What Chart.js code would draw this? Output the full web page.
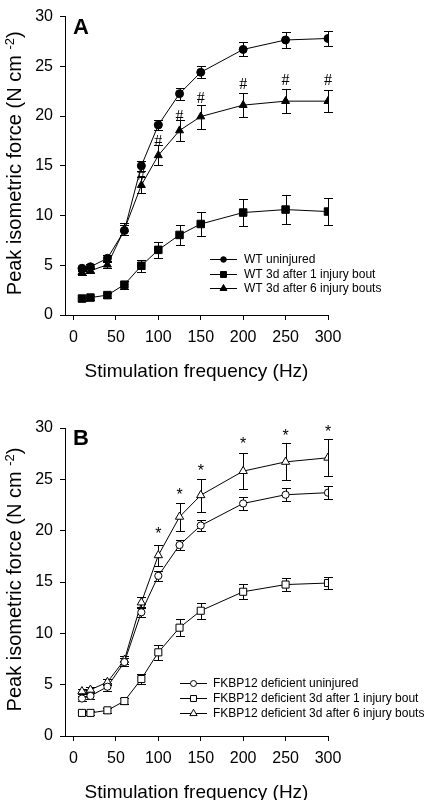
<!DOCTYPE html>
<html>
<head>
<meta charset="utf-8">
<script src="https://cdn.jsdelivr.net/npm/chart.js@4.4.1/dist/chart.umd.min.js"></script>
<style>
  html, body { margin: 0; padding: 0; background: #fff; }
  canvas { display: block; }
</style>
</head>
<body>
<canvas id="chart-a" width="428" height="400"></canvas>
<canvas id="chart-b" width="428" height="400"></canvas>
<script>
// Stimulation frequencies (Hz)
const freq = [10, 20, 40, 60, 80, 100, 125, 150, 200, 250, 300];
const xTicks = [0, 50, 100, 150, 200, 250, 300];
const yTicks = [0, 5, 10, 15, 20, 25, 30];

// Panel A - WT (mean, sem)
const wtUninjured = [4.7, 4.85, 5.7, 8.5, 15.0, 19.1, 22.25, 24.4, 26.7, 27.65, 27.8];
const wtUninjuredSem = [0.25, 0.25, 0.3, 0.5, 0.5, 0.55, 0.6, 0.6, 0.7, 0.8, 0.8];
const wt1Bout = [1.65, 1.75, 2.0, 3.05, 4.95, 6.55, 8.05, 9.15, 10.3, 10.6, 10.4];
const wt1BoutSem = [0.2, 0.2, 0.25, 0.4, 0.6, 0.8, 1.0, 1.2, 1.4, 1.5, 1.4];
const wt6Bouts = [4.3, 4.45, 5.05, 8.6, 13.05, 16.05, 18.55, 19.95, 21.1, 21.5, 21.5];
const wt6BoutsSem = [0.25, 0.25, 0.3, 0.6, 0.8, 1.0, 1.1, 1.2, 1.2, 1.2, 1.1];

// Panel B - FKBP12 deficient (mean, sem)
const fkUninjured = [3.65, 3.9, 4.8, 7.2, 12.05, 15.6, 18.6, 20.5, 22.65, 23.5, 23.7];
const fkUninjuredSem = [0.25, 0.25, 0.4, 0.4, 0.5, 0.5, 0.5, 0.55, 0.65, 0.65, 0.65];
const fk1Bout = [2.25, 2.25, 2.5, 3.4, 5.55, 8.15, 10.55, 12.2, 14.05, 14.75, 14.9];
const fk1BoutSem = [0.2, 0.2, 0.25, 0.3, 0.5, 0.7, 0.8, 0.8, 0.75, 0.65, 0.6];
const fk6Bouts = [4.35, 4.5, 5.25, 7.4, 13.0, 17.6, 21.35, 23.45, 25.8, 26.7, 27.1];
const fk6BoutsSem = [0.25, 0.25, 0.3, 0.4, 0.5, 1.0, 1.35, 1.6, 1.75, 1.8, 1.8];

// significance marks (freq, y value where the mark sits)
const hashFreq = [80, 100, 125, 150, 200, 250, 300];
const hashY = [14.1, 17.5, 20.1, 21.9, 23.3, 23.7, 23.7];
const starFreq = [100, 125, 150, 200, 250, 300];
const starY = [20.1, 23.9, 26.25, 28.8, 29.6, 30.0];

const SANS = 'Arial, "Liberation Sans", sans-serif';

function toPoints(vals) {
  return freq.map((f, i) => ({ x: f, y: vals[i] }));
}

function makeDataset(label, vals, sem, style, radius, fill) {
  return {
    label: label,
    data: toPoints(vals),
    sem: sem,
    borderColor: '#000',
    borderWidth: 1,
    pointStyle: style,
    pointRadius: radius,
    pointBorderWidth: 1,
    pointBorderColor: '#000',
    pointBackgroundColor: fill,
    tension: 0,
    fill: false
  };
}

// error bars + titles + legend + marks
function decorPlugin(extra) {
  return {
    id: 'decor',
    beforeDatasetsDraw(chart) {
      const { ctx, scales: { x, y } } = chart;
      ctx.save();
      ctx.strokeStyle = '#000';
      ctx.lineWidth = 1;
      chart.data.datasets.forEach(ds => {
        ds.data.forEach((p, i) => {
          const px = Math.round(x.getPixelForValue(p.x)) + 0.5;
          const top = Math.round(y.getPixelForValue(p.y + ds.sem[i])) + 0.5;
          const bot = Math.round(y.getPixelForValue(p.y - ds.sem[i])) + 0.5;
          ctx.beginPath();
          ctx.moveTo(px, top); ctx.lineTo(px, bot);
          ctx.moveTo(px - 4.5, top); ctx.lineTo(px + 4.5, top);
          ctx.moveTo(px - 4.5, bot); ctx.lineTo(px + 4.5, bot);
          ctx.stroke();
        });
      });
      ctx.restore();
    },
    afterDraw(chart) {
      const { ctx, chartArea: area, scales: { x, y } } = chart;
      ctx.save();
      ctx.fillStyle = '#000';

      // panel letter
      ctx.font = 'bold 22px ' + SANS;
      ctx.textAlign = 'left';
      ctx.textBaseline = 'alphabetic';
      ctx.fillText(extra.letter, area.left + 8, area.top + 17);

      // x title
      ctx.font = '19px ' + SANS;
      ctx.textAlign = 'center';
      ctx.fillText('Stimulation frequency (Hz)', (area.left + area.right) / 2, area.bottom + 61.5);

      // y title with superscript
      const main = 'Peak isometric force (N cm ';
      const sup = '-2';
      const close = ')';
      ctx.font = '20px ' + SANS;
      const w1 = ctx.measureText(main).width;
      const w3 = ctx.measureText(close).width;
      ctx.font = '13px ' + SANS;
      const w2 = ctx.measureText(sup).width;
      const x0 = -(w1 + w2 + w3) / 2;
      ctx.save();
      ctx.translate(20.5, (area.top + area.bottom) / 2 - 2.5);
      ctx.rotate(-Math.PI / 2);
      ctx.textAlign = 'left';
      ctx.font = '20px ' + SANS;
      ctx.fillText(main, x0, 0);
      ctx.font = '13px ' + SANS;
      ctx.fillText(sup, x0 + w1, -7);
      ctx.font = '20px ' + SANS;
      ctx.fillText(close, x0 + w1 + w2, 0);
      ctx.restore();

      // significance marks
      ctx.textAlign = 'center';
      if (extra.mark === '#') {
        ctx.font = '16px "Liberation Serif", "Times New Roman", serif';
        hashFreq.forEach((f, i) => {
          ctx.fillText('#', x.getPixelForValue(f), y.getPixelForValue(hashY[i]) + 5.5);
        });
      } else {
        ctx.font = '16px ' + SANS;
        starFreq.forEach((f, i) => {
          ctx.fillText('*', x.getPixelForValue(f), y.getPixelForValue(starY[i]) + 9);
        });
      }

      // legend
      const lg = extra.legend;
      chart.data.datasets.forEach((ds, i) => {
        const ly = Math.round(area.bottom + lg.rows[i]) + 0.5;
        ctx.strokeStyle = '#000';
        ctx.lineWidth = 1;
        ctx.beginPath();
        ctx.moveTo(lg.x0, ly);
        ctx.lineTo(lg.x1, ly);
        ctx.stroke();
        ctx.fillStyle = ds.pointBackgroundColor;
        Chart.helpers.drawPoint(ctx, {
          pointStyle: ds.pointStyle,
          radius: lg.radius[i],
          rotation: 0,
          borderWidth: 1
        }, (lg.x0 + lg.x1) / 2, ly);
        ctx.fillStyle = '#000';
        ctx.font = '12px ' + SANS;
        ctx.textAlign = 'left';
        ctx.textBaseline = 'middle';
        ctx.fillText(ds.label, lg.tx, ly);
        ctx.textBaseline = 'alphabetic';
      });
      ctx.restore();
    }
  };
}

function createChart(canvasId, datasets, extra) {
  const tickFont = { family: SANS, size: 16 };
  return new Chart(document.getElementById(canvasId).getContext('2d'), {
    type: 'line',
    data: { datasets: datasets },
    options: {
      responsive: false,
      animation: false,
      layout: { padding: { top: extra.padTop, right: 100, left: 0, bottom: 0 } },
      plugins: { legend: { display: false }, tooltip: { enabled: false } },
      scales: {
        x: {
          type: 'linear',
          min: -10,
          max: 300,
          afterBuildTicks: s => { s.ticks = xTicks.map(v => ({ value: v })); },
          afterFit: s => { s.height = extra.axisHeight; },
          grid: { drawOnChartArea: false, drawTicks: true, tickLength: 5, color: '#000', lineWidth: 1 },
          border: { display: true, color: '#000', width: 1 },
          ticks: { color: '#000', font: tickFont, padding: 8, maxRotation: 0, autoSkip: false }
        },
        y: {
          type: 'linear',
          min: 0,
          max: 30,
          afterBuildTicks: s => { s.ticks = yTicks.map(v => ({ value: v })); },
          afterFit: s => { s.width = 65; },
          grid: { drawOnChartArea: false, drawTicks: true, tickLength: 5, color: '#000', lineWidth: 1 },
          border: { display: true, color: '#000', width: 1 },
          ticks: { color: '#000', font: tickFont, padding: 7 }
        }
      }
    },
    plugins: [decorPlugin(extra)]
  });
}

createChart('chart-a', [
  makeDataset('WT uninjured', wtUninjured, wtUninjuredSem, 'circle', 4, '#000'),
  makeDataset('WT 3d after 1 injury bout', wt1Bout, wt1BoutSem, 'rect', 5.3, '#000'),
  makeDataset('WT 3d after 6 injury bouts', wt6Bouts, wt6BoutsSem, 'triangle', 4.6, '#000')
], {
  letter: 'A', mark: '#', padTop: 8, axisHeight: 85,
  legend: { x0: 210, x1: 237, tx: 244, rows: [-56, -41.3, -26.7], radius: [2.8, 4.2, 4] }
});

createChart('chart-b', [
  makeDataset('FKBP12 deficient uninjured', fkUninjured, fkUninjuredSem, 'circle', 3.6, '#fff'),
  makeDataset('FKBP12 deficient 3d after 1 injury bout', fk1Bout, fk1BoutSem, 'rect', 5, '#fff'),
  makeDataset('FKBP12 deficient 3d after 6 injury bouts', fk6Bouts, fk6BoutsSem, 'triangle', 4.8, '#fff')
], {
  letter: 'B', mark: '*', padTop: 28, axisHeight: 64,
  legend: { x0: 180, x1: 207, tx: 213, rows: [-52.7, -37.7, -22.7], radius: [3, 4.2, 4.2] }
});
</script>
</body>
</html>
